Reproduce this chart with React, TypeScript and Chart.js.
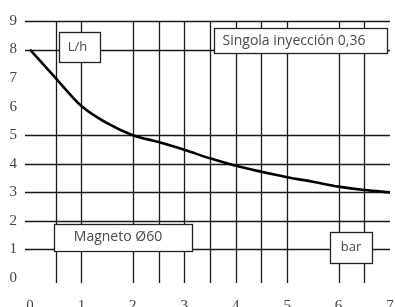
import React, { useEffect, useRef } from "react";
import { Chart, registerables } from "chart.js";

Chart.register(...registerables);

// Data
const pressureBar = [0, 0.5, 1, 1.5, 2, 2.5, 3, 3.5, 4, 4.5, 5, 5.5, 6, 6.5, 7];
const flowLh = [8, 7.0, 6.02, 5.42, 5.0, 4.76, 4.49, 4.19, 3.93, 3.72, 3.53, 3.37, 3.2, 3.08, 3.0];
const xTickLabels = [0, 1, 2, 3, 4, 5, 6, 7];
const yTickLabels = [0, 1, 2, 3, 4, 5, 6, 7, 8, 9];
const xGridValues = [0.5, 1, 2, 2.5, 3, 3.5, 4, 4.5, 5, 6, 6.5];
const yGridValues = [1, 2, 3, 4, 5, 8, 9];

// Annotation boxes (data coordinates)
const notes = [
  { text: "L/h", size: 13, x0: 0.564, x1: 1.361, y0: 8.615, y1: 7.564, tx: 0.924, ty: 8.09 },
  { text: "Singola inyección 0,36", size: 14, x0: 3.578, x1: 6.941, y0: 8.755, y1: 7.879, tx: 5.133, ty: 8.3 },
  { text: "Magneto Ø60", size: 14, x0: 0.467, x1: 3.15, y0: 1.89, y1: 0.945, tx: 1.711, ty: 1.436 },
  { text: "bar", size: 13, x0: 5.833, x1: 6.65, y0: 1.611, y1: 0.525, tx: 6.241, ty: 1.086 },
];

const gridPlugin = {
  id: "customGrid",
  beforeDatasetsDraw(chart: any) {
    const { ctx, chartArea, scales } = chart;
    const xs = scales.x;
    const ys = scales.y;
    ctx.save();
    ctx.strokeStyle = "#1a1a1a";
    ctx.lineWidth = 1.3;
    ctx.beginPath();
    for (const v of xGridValues) {
      const px = Math.round(xs.getPixelForValue(v)) + 0.5;
      ctx.moveTo(px, chartArea.top);
      ctx.lineTo(px, chartArea.bottom);
    }
    for (const v of yGridValues) {
      const py = Math.round(ys.getPixelForValue(v)) + 0.5;
      ctx.moveTo(chartArea.left, py);
      ctx.lineTo(chartArea.right, py);
    }
    ctx.stroke();
    ctx.restore();
  },
};

const notesPlugin = {
  id: "notes",
  afterDatasetsDraw(chart: any) {
    const { ctx, scales } = chart;
    const xs = scales.x;
    const ys = scales.y;
    ctx.save();
    for (const n of notes) {
      const l = Math.round(xs.getPixelForValue(n.x0)) + 0.5;
      const r = Math.round(xs.getPixelForValue(n.x1)) + 0.5;
      const t = Math.round(ys.getPixelForValue(n.y0)) + 0.5;
      const b = Math.round(ys.getPixelForValue(n.y1)) + 0.5;
      ctx.fillStyle = "#ffffff";
      ctx.fillRect(l, t, r - l, b - t);
      ctx.strokeStyle = "#222";
      ctx.lineWidth = 1.3;
      ctx.strokeRect(l, t, r - l, b - t);
      ctx.fillStyle = "#4a4a4a";
      ctx.font = `${n.size}px 'Open Sans'`;
      ctx.textAlign = "center";
      ctx.textBaseline = "middle";
      ctx.fillText(n.text, xs.getPixelForValue(n.tx), ys.getPixelForValue(n.ty));
    }
    ctx.restore();
  },
};

export default function App() {
  const ref = useRef<HTMLCanvasElement>(null);
  useEffect(() => {
    document.body.style.margin = "0";
    const chart = new Chart(ref.current!, {
      type: "line",
      data: {
        datasets: [
          {
            data: pressureBar.map((x, i) => ({ x, y: flowLh[i] })),
            borderColor: "#000",
            borderWidth: 2.6,
            pointRadius: 0,
            cubicInterpolationMode: "monotone",
            fill: false,
          },
        ],
      },
      options: {
        animation: false,
        responsive: false,
        maintainAspectRatio: false,
        layout: { padding: { top: 21, right: 5, left: 0, bottom: 0 } },
        plugins: { legend: { display: false }, tooltip: { enabled: false } },
        scales: {
          x: {
            type: "linear",
            min: -0.097,
            max: 7,
            afterBuildTicks(scale: any) {
              scale.ticks = xTickLabels.map((v) => ({ value: v }));
            },
            afterFit(scale: any) {
              scale.height = 24;
              scale.paddingLeft = 0;
              scale.paddingRight = 0;
            },
            grid: { display: false, drawTicks: false },
            border: { display: false },
            ticks: {
              padding: 14,
              color: "#444",
              font: { family: "'Liberation Sans Narrow'", size: 15 },
              maxRotation: 0,
              autoSkip: false,
            },
          },
          y: {
            type: "linear",
            min: -0.175,
            max: 9,
            afterBuildTicks(scale: any) {
              scale.ticks = yTickLabels.map((v) => ({ value: v }));
            },
            afterFit(scale: any) {
              scale.width = 25;
              scale.paddingTop = 0;
              scale.paddingBottom = 0;
            },
            grid: { display: false, drawTicks: false },
            border: { display: false },
            ticks: {
              padding: 8,
              color: "#444",
              font: { family: "'Liberation Sans Narrow'", size: 15 },
              autoSkip: false,
            },
          },
        },
      },
      plugins: [gridPlugin, notesPlugin],
    } as any);
    return () => chart.destroy();
  }, []);
  return (
    <div style={{ width: 395, height: 307 }}>
      <canvas ref={ref} width={395} height={307} style={{ display: "block" }} />
    </div>
  );
}
